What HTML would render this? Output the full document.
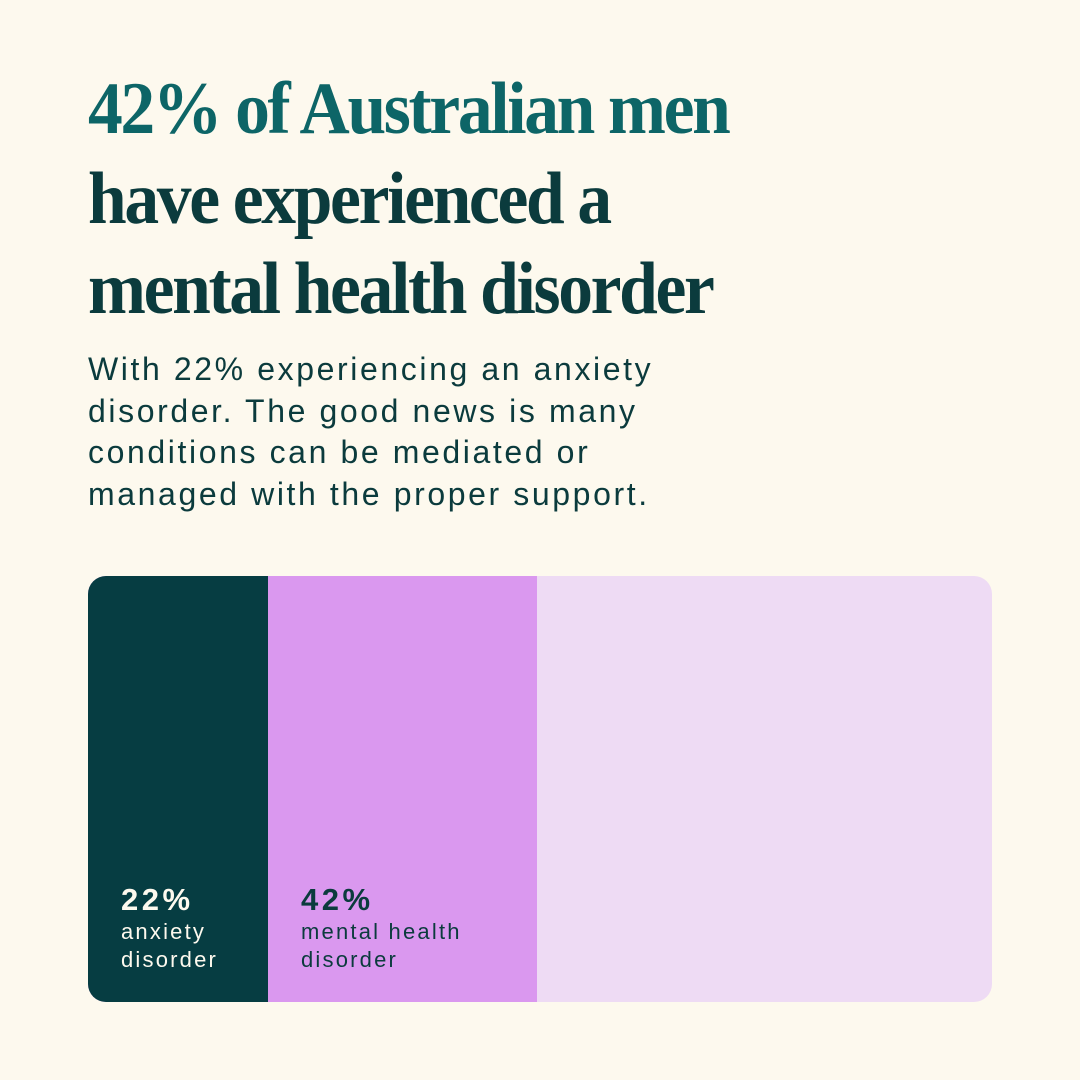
<!DOCTYPE html>
<html><head><meta charset="utf-8">
<style>
html,body{margin:0;padding:0}
body{width:1080px;height:1080px;background:#fdf9ee;position:relative;overflow:hidden;font-family:"Liberation Sans",sans-serif;color:#0b3b3d}
.title{position:absolute;left:88px;top:64px;font-family:"Liberation Serif",serif;font-weight:bold;font-size:74px;line-height:90px;letter-spacing:-2.5px;white-space:nowrap;transform:scaleX(0.94);transform-origin:0 0;color:#0b3b3d}
.title .hl{color:#0d6567}
.sub{position:absolute;left:88px;top:349px;font-size:32px;line-height:41.5px;color:#0b3b3d;letter-spacing:2.6px;white-space:nowrap}
</style></head><body>
<div class="title"><span class="hl">42% of Australian men</span><br>have experienced a<br>mental health disorder</div>
<div class="sub">With 22% experiencing an anxiety<br>disorder. The good news is many<br>conditions can be mediated or<br>managed with the proper support.</div>
<svg id="chart" width="1080" height="1080" style="position:absolute;left:0;top:0">
<defs><clipPath id="clip"><rect x="88" y="576" width="904" height="426" rx="18"/></clipPath></defs>
</svg>
<script>
const values=[22,42];
const pcts=["22%","42%"];
const labels1=["anxiety","mental health"];
const labels2=["disorder","disorder"];
const colors=["#063d42","#da98ef"];
const svg=document.getElementById('chart');
const NS='http://www.w3.org/2000/svg';
const X0=88,W=904,Y0=576,H=426;
const ends=[180/22,449/42];
function x(v,i){return X0+v*ends[i];}
const g=document.createElementNS(NS,'g');g.setAttribute('clip-path','url(#clip)');svg.appendChild(g);
const bg=document.createElementNS(NS,'rect');


bg.setAttribute('x',X0);bg.setAttribute('y',Y0);bg.setAttribute('width',W);bg.setAttribute('height',H);bg.setAttribute('fill','#eedbf4');g.appendChild(bg);
for(let i=values.length-1;i>=0;i--){
 const r=document.createElementNS(NS,'rect');
 
 
 r.setAttribute('x',X0);r.setAttribute('y',Y0);r.setAttribute('width',x(values[i],i)-X0);r.setAttribute('height',H);r.setAttribute('fill',colors[i]);g.appendChild(r);
}
for(let i=0;i<values.length;i++){
 const lx=(i===0?X0:x(values[i-1],i-1))+33;
 const col=i===0?'#fdf9ee':'#0b3b3d';
 const t=document.createElementNS(NS,'text');
 
 
 t.setAttribute('x',lx);t.setAttribute('y',910);t.setAttribute('fill',col);t.setAttribute('font-size','31');t.setAttribute('letter-spacing','3.5');t.setAttribute('font-weight','bold');t.setAttribute('font-family','Liberation Sans, sans-serif');t.textContent=pcts[i];svg.appendChild(t);
 const a=document.createElementNS(NS,'text');
 
 
 a.setAttribute('x',lx);a.setAttribute('y',939);a.setAttribute('fill',col);a.setAttribute('font-size','22');a.setAttribute('letter-spacing','2.2');a.setAttribute('font-family','Liberation Sans, sans-serif');a.textContent=labels1[i];svg.appendChild(a);
 const b=document.createElementNS(NS,'text');
 
 
 b.setAttribute('x',lx);b.setAttribute('y',967);b.setAttribute('fill',col);b.setAttribute('font-size','22');b.setAttribute('letter-spacing','2.2');b.setAttribute('font-family','Liberation Sans, sans-serif');b.textContent=labels2[i];svg.appendChild(b);
}
</script>
</body></html>
